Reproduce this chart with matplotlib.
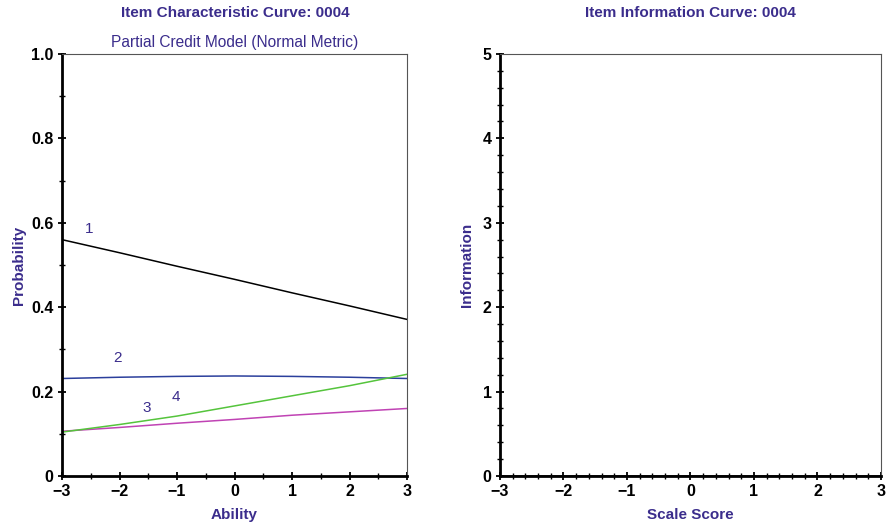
import matplotlib
import matplotlib.pyplot as plt
from matplotlib.ticker import MultipleLocator

matplotlib.use('Agg')
plt.rcParams['font.family'] = ['Liberation Sans', 'DejaVu Sans']

# category response curves, read at whole ability points
ability = [-3, -2, -1, 0, 1, 2, 3]
p_cat1 = [0.560, 0.529, 0.497, 0.466, 0.434, 0.403, 0.371]
p_cat2 = [0.231, 0.234, 0.236, 0.237, 0.236, 0.234, 0.231]
p_cat3 = [0.106, 0.115, 0.125, 0.134, 0.144, 0.152, 0.160]
p_cat4 = [0.104, 0.122, 0.142, 0.166, 0.190, 0.214, 0.241]

scale_score = [-3, -2, -1, 0, 1, 2, 3]
information = [0, 0, 0, 0, 0, 0, 0]

curve_colors = ['#000000', '#2b3f9c', '#c043b4', '#55c43c']
curve_labels = ['1', '2', '3', '4']
label_pos = [(-2.53, 0.585), (-2.03, 0.28), (-1.52, 0.161), (-1.02, 0.186)]

PURPLE = '#3b2d8c'
XTICK_TEXT = ['\u22123', '\u22122', '\u22121', '0', '1', '2', '3']


def style_axes(ax):
    ax.spines['left'].set_linewidth(2.0)
    ax.spines['bottom'].set_linewidth(2.0)
    for side in ('top', 'right'):
        ax.spines[side].set_linewidth(0.8)
        ax.spines[side].set_color('#555555')
    ax.tick_params(which='major', direction='inout', length=6, width=1.3,
                   labelsize=11.5, pad=3)
    ax.tick_params(which='minor', direction='inout', length=4, width=1.0)
    for lab in ax.get_xticklabels() + ax.get_yticklabels():
        lab.set_fontweight('bold')


fig = plt.figure(figsize=(8.87, 5.29), dpi=100)
ax1 = fig.add_axes([0.0699, 0.1002, 0.389, 0.7978])
ax2 = fig.add_axes([0.5637, 0.1002, 0.4295, 0.7978])

# left: item characteristic curves
for probs, col in zip([p_cat1, p_cat2, p_cat3, p_cat4], curve_colors):
    ax1.plot(ability, probs, color=col, lw=1.1)
for txt, (x, y) in zip(curve_labels, label_pos):
    ax1.text(x, y, txt, color=PURPLE, fontsize=11, ha='center', va='center')

ax1.set_xlim(-3, 3)
ax1.set_ylim(0, 1)
ax1.set_xticks([-3, -2, -1, 0, 1, 2, 3])
ax1.set_xticklabels(XTICK_TEXT)
ax1.xaxis.set_minor_locator(MultipleLocator(0.5))
ax1.set_yticks([0, 0.2, 0.4, 0.6, 0.8, 1.0])
ax1.set_yticklabels(['0', '0.2', '0.4', '0.6', '0.8', '1.0'])
ax1.yaxis.set_minor_locator(MultipleLocator(0.1))
style_axes(ax1)
ax1.set_xlabel('Ability', color=PURPLE, fontsize=11, fontweight='bold', labelpad=6)
ax1.set_ylabel('Probability', color=PURPLE, fontsize=11, fontweight='bold', labelpad=4)
ax1.set_title('Partial Credit Model (Normal Metric)', color=PURPLE, fontsize=11.2, pad=5)
fig.text(0.265, 0.975, 'Item Characteristic Curve: 0004', color=PURPLE,
         fontsize=11, fontweight='bold', ha='center', va='center')

# right: item information curve
ax2.plot(scale_score, information, color='#000000', lw=1.1)
ax2.set_xlim(-3, 3)
ax2.set_ylim(0, 5)
ax2.set_xticks([-3, -2, -1, 0, 1, 2, 3])
ax2.set_xticklabels(XTICK_TEXT)
ax2.xaxis.set_minor_locator(MultipleLocator(0.2))
ax2.set_yticks([0, 1, 2, 3, 4, 5])
ax2.yaxis.set_minor_locator(MultipleLocator(0.2))
style_axes(ax2)
ax2.set_xlabel('Scale Score', color=PURPLE, fontsize=11, fontweight='bold', labelpad=6)
ax2.set_ylabel('Information', color=PURPLE, fontsize=11, fontweight='bold', labelpad=6)
fig.text(0.778, 0.975, 'Item Information Curve: 0004', color=PURPLE,
         fontsize=11, fontweight='bold', ha='center', va='center')

fig.savefig('out.png', dpi=100)
plt.close(fig)
